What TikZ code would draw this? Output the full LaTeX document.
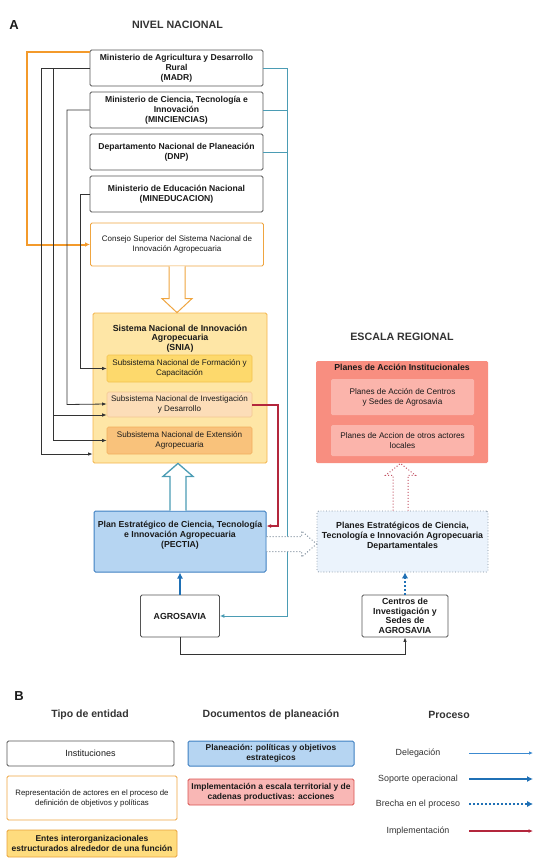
\documentclass[tikz,border=0pt]{standalone}
\usepackage{fontspec}
\setmainfont{Liberation Sans}
\usetikzlibrary{arrows.meta,calc}
\definecolor{instgray}{HTML}{555555}
\definecolor{consejodraw}{HTML}{EFA540}
\definecolor{orangeln}{HTML}{F39A2B}
\definecolor{sniafill}{HTML}{FEE6A6}
\definecolor{sniadraw}{HTML}{F3B44C}
\definecolor{formfill}{HTML}{FDD96C}
\definecolor{formdraw}{HTML}{F4C24E}
\definecolor{idfill}{HTML}{FCDDB8}
\definecolor{iddraw}{HTML}{F4C792}
\definecolor{extfill}{HTML}{F9C27B}
\definecolor{extdraw}{HTML}{F2AE5C}
\definecolor{pectiafill}{HTML}{B6D5F2}
\definecolor{pectiadraw}{HTML}{3E7FC1}
\definecolor{pdeptfill}{HTML}{EBF3FC}
\definecolor{pdeptdraw}{HTML}{7D8C9B}
\definecolor{paifill}{HTML}{F88E80}
\definecolor{paiinfill}{HTML}{FBB4AB}
\definecolor{tealln}{HTML}{4B9CB4}
\definecolor{redln}{HTML}{B3263C}
\definecolor{blueln}{HTML}{1F70B5}
\definecolor{delegln}{HTML}{3C8AD0}
\definecolor{entesfill}{HTML}{FEDC7E}
\definecolor{entesdraw}{HTML}{E8A23A}
\definecolor{implfill}{HTML}{F9B7B5}
\definecolor{impldraw}{HTML}{D9534F}
\definecolor{darkln}{HTML}{333333}
\definecolor{txt}{HTML}{1A1A1A}
\newcommand{\fs}[2]{\fontsize{#1}{#2}\selectfont}
\begin{document}
\begin{tikzpicture}[x=1pt,y=-1pt,
  every node/.style={text=txt},
  box/.style={rectangle, rounded corners=1.5pt, align=center, inner sep=1pt, line width=0.8pt},
  inst/.style={box, draw=instgray, fill=white, font=\fs{8.6}{10}\bfseries},
  repr/.style={box, draw=consejodraw, fill=white, font=\fs{8}{10}},
  snia/.style={box, draw=sniadraw, fill=sniafill},
  sub/.style={box, line width=0.6pt, font=\fs{8.1}{9.8}},
  pectia/.style={box, draw=pectiadraw, fill=pectiafill, line width=1pt},
  pdept/.style={box, draw=pdeptdraw, fill=pdeptfill, dotted, line width=0.8pt},
  pai/.style={box, draw=none, fill=paifill},
  paiin/.style={box, draw=none, fill=paiinfill, font=\fs{8.2}{9.8}},
  btext/.style={align=center, inner sep=0pt, font=\fs{8.7}{9.8}\bfseries},
  title/.style={inner sep=0pt, font=\fs{13}{15}\bfseries},
  region/.style={inner sep=0pt, font=\fs{10.7}{12}\bfseries, text=darkln},
  lhead/.style={inner sep=0pt, font=\fs{10.5}{12}\bfseries, text=darkln},
  ptext/.style={inner sep=0pt, font=\fs{8.9}{10}, text=darkln},
  oline/.style={draw=orangeln, line width=2pt, -{Latex[length=5pt,width=4.5pt]}},
  dline/.style={draw=darkln, line width=0.8pt, -{Latex[length=4.5pt,width=3.5pt]}},
  tline/.style={draw=tealln, line width=0.9pt},
  rline/.style={draw=redln, line width=1.2pt, -{Latex[length=4.5pt,width=4pt]}},
  bthick/.style={draw=blueln, line width=2.4pt, -{Latex[length=6pt,width=6pt]}},
  bdot/.style={draw=blueln, line width=2pt, dotted, -{Latex[length=6pt,width=6.5pt]}},
  holl/.style={fill=white, line width=1pt}
]
\useasboundingbox (0,0) rectangle (544,867);

% ---------- Titles ----------
\node[title] (tA) at (14,25) {A};
\node[region] (tnac) at (177.5,25) {NIVEL NACIONAL};
\node[region] (treg) at (402,337) {ESCALA REGIONAL};

% ---------- National institutions ----------
\node[inst, minimum width=173pt, minimum height=36pt] (madr) at (176.5,68) {Ministerio de Agricultura y Desarrollo\\Rural\\(MADR)};
\node[inst, minimum width=173pt, minimum height=36pt] (minc) at (176.5,110) {Ministerio de Ciencia, Tecnología e\\Innovación\\(MINCIENCIAS)};
\node[inst, minimum width=173pt, minimum height=36pt] (dnp) at (176.5,152) {Departamento Nacional de Planeación\\(DNP)};
\node[inst, minimum width=173pt, minimum height=36pt] (mined) at (176.5,194) {Ministerio de Educación Nacional\\(MINEDUCACION)};
\node[repr, minimum width=173pt, minimum height=43pt] (consejo) at (177,244.5) {Consejo Superior del Sistema Nacional de\\Innovación Agropecuaria};

% ---------- SNIA ----------
\node[snia, minimum width=174pt, minimum height=150pt] (snia) at (180,388) {};
\node[btext, font=\fs{8.8}{9.8}\bfseries] (sniat) at (180,338.5) {Sistema Nacional de Innovación\\Agropecuaria\\(SNIA)};
\node[sub, draw=formdraw, fill=formfill, minimum width=145pt, minimum height=27pt] (form) at (179.5,368.5) {Subsistema Nacional de Formación y\\Capacitación};
\node[sub, draw=iddraw, fill=idfill, minimum width=145pt, minimum height=25pt] (id) at (179.5,404.5) {Subsistema Nacional de Investigación\\y Desarrollo};
\node[sub, draw=extdraw, fill=extfill, minimum width=145pt, minimum height=27pt] (ext) at (179.5,440.5) {Subsistema Nacional de Extensión\\Agropecuaria};

% ---------- PECTIA & AGROSAVIA ----------
\node[pectia, minimum width=172pt, minimum height=61pt] (pectia) at (180,541.5) {};
\node[btext] (pectiat) at (180,535.5) {Plan Estratégico de Ciencia, Tecnología\\e Innovación Agropecuaria\\(PECTIA)};
\node[inst, minimum width=79pt, minimum height=42pt, font=\fs{8.8}{10}\bfseries] (agro) at (180,616) {AGROSAVIA};

% ---------- Regional ----------
\node[pai, minimum width=172pt, minimum height=102pt] (pai) at (402,412) {};
\node[btext, font=\fs{8.7}{9.8}\bfseries] (pait) at (402,367.5) {Planes de Acción Institucionales};
\node[paiin, minimum width=143pt, minimum height=36pt] (pai1) at (402.5,397) {Planes de Acción de Centros\\y Sedes de Agrosavia};
\node[paiin, minimum width=143pt, minimum height=31pt] (pai2) at (402.5,440.5) {Planes de Accion de otros actores\\locales};
\node[pdept, minimum width=171pt, minimum height=61pt] (pdept) at (402.5,541.5) {};
\node[btext, font=\fs{8.8}{9.8}\bfseries] (pdeptt) at (402.5,536) {Planes Estratégicos de Ciencia,\\Tecnología e Innovación Agropecuaria\\Departamentales};
\node[inst, minimum width=86pt, minimum height=42pt, font=\fs{8.8}{9.6}\bfseries] (centros) at (405,616) {Centros de\\Investigación y\\Sedes de\\AGROSAVIA};

% ---------- Orange line ----------
\coordinate (or1) at (27,52);
\coordinate (or2) at (27,244.5);
\draw[oline] (or1 -| madr.west) -- (or1) -- (or2) -- (consejo.west);

% ---------- Black lines (left) ----------
\coordinate (b1) at (41,68);
\coordinate (b1e) at (41,454);
\coordinate (b2) at (53,68);
\coordinate (b2m) at (53,415);
\coordinate (b2e) at (53,440.5);
\coordinate (c1) at (67,110);
\coordinate (e1) at (80,194);
\draw[dline] (madr.west) -- (b1) -- (b1e) -- (b1e -| snia.west);
\draw[dline] (b2) -- (b2e) -- (ext.west);
\draw[dline] (b2m) -- (b2m -| id.west);
\draw[dline] (minc.west) -- (c1) -- (c1 |- id.west) -- ([yshift=0.5pt]id.west);
\draw[dline] (mined.west) -- (e1) -- (e1 |- form.west) -- (form.west);

% ---------- Teal line (right) ----------
\coordinate (t1) at (287,68);
\coordinate (t2) at (287,616);
\draw[tline, -{Latex[length=4.5pt,width=4pt]}] (madr.east) -- (t1) -- (t2) -- (agro.east);
\draw[tline] (minc.east) -- (minc.east -| t1);
\draw[tline] (dnp.east) -- (dnp.east -| t1);

% ---------- Red line ----------
\coordinate (r1) at (278,405);
\coordinate (r2) at (278,526);
\draw[rline] (r1 -| id.east) -- (r1) -- (r2) -- (r2 -| pectia.east);

% ---------- Bottom black line ----------
\coordinate (k1) at (180,654);
\draw[dline] (agro.south) -- (k1) -- (k1 -| centros.south) -- (centros.south);

% ---------- Blue arrows ----------
\draw[bthick] (agro.north) -- (pectia.south);
\draw[bdot] (centros.north) -- (centros.north |- pdept.south);

% ---------- Hollow arrows ----------
% Consejo -> SNIA
\coordinate (h1a) at (consejo.south);
\coordinate (h1b) at (consejo.south |- snia.north);
\filldraw[holl, draw=consejodraw] ($(h1a)+(-8,0)$) -- ($(h1b)+(-8,-14)$) -- ($(h1b)+(-15,-14)$) -- (h1b) -- ($(h1b)+(15,-14)$) -- ($(h1b)+(8,-14)$) -- ($(h1a)+(8,0)$);
% PECTIA -> SNIA
\coordinate (h2a) at ($(pectia.north)+(-2,0)$);
\coordinate (h2b) at (h2a |- snia.south);
\filldraw[holl, draw=tealln, line width=1.3pt] ($(h2a)+(-8,0)$) -- ($(h2b)+(-8,13)$) -- ($(h2b)+(-15,13)$) -- (h2b) -- ($(h2b)+(15,13)$) -- ($(h2b)+(8,13)$) -- ($(h2a)+(8,0)$);
% PECTIA -> Planes departamentales
\coordinate (h3a) at ($(pectia.east)+(0,2.5)$);
\coordinate (h3b) at (h3a -| pdept.west);
\filldraw[holl, draw=pdeptdraw, dotted] ($(h3a)+(0,-7.5)$) -- ($(h3b)+(-15,-7.5)$) -- ($(h3b)+(-15,-13)$) -- (h3b) -- ($(h3b)+(-15,13)$) -- ($(h3b)+(-15,7.5)$) -- ($(h3a)+(0,7.5)$);
% Planes departamentales -> Planes de Accion
\coordinate (h4a) at ($(pdept.north)+(-2,0)$);
\coordinate (h4b) at (h4a |- pai.south);
\filldraw[holl, draw=redln!80, dotted] ($(h4a)+(-7.5,0)$) -- ($(h4b)+(-7.5,12)$) -- ($(h4b)+(-15,12)$) -- (h4b) -- ($(h4b)+(15,12)$) -- ($(h4b)+(7.5,12)$) -- ($(h4a)+(7.5,0)$);

% ---------- Legend ----------
\node[title] (tB) at (19,696) {B};
\node[lhead] (lh1) at (90,715) {Tipo de entidad};
\node[lhead] (lh2) at (271,715) {Documentos de planeación};
\node[lhead] (lh3) at (449,715) {Proceso};

\node[inst, font=\fs{9}{10}, minimum width=167pt, minimum height=25pt] (l1) at (90.5,753.5) {Instituciones};
\node[repr, font=\fs{7.8}{10}, minimum width=170pt, minimum height=44pt] (l2) at (92,798) {Representación de actores en el proceso de\\definición de objetivos y políticas};
\node[box, draw=entesdraw, fill=entesfill, font=\fs{8.5}{10}\bfseries, minimum width=170pt, minimum height=27pt] (l3) at (92,843.5) {Entes interorganizacionales\\estructurados alrededor de una función};
\node[pectia, font=\fs{8.4}{10}\bfseries, minimum width=166pt, minimum height=25pt] (l4) at (271,753.5) {Planeación: políticas y objetivos\\estrategicos};
\node[box, draw=impldraw, fill=implfill, font=\fs{8.5}{10}\bfseries, minimum width=166pt, minimum height=26pt] (l5) at (271,792) {Implementación a escala territorial y de\\cadenas productivas: acciones};

\node[ptext] (p1) at (418,753) {Delegación};
\node[ptext] (p2) at (418,779) {Soporte operacional};
\node[ptext] (p3) at (418,804) {Brecha en el proceso};
\node[ptext] (p4) at (418,831) {Implementación};
\coordinate (p1a) at (469,753); \coordinate (p1b) at (533,753);
\coordinate (p2a) at (469,779); \coordinate (p2b) at (533,779);
\coordinate (p3a) at (469,804); \coordinate (p3b) at (533,804);
\coordinate (p4a) at (469,831); \coordinate (p4b) at (533,831);
\draw[draw=delegln, line width=0.8pt, -{Latex[length=4pt,width=3.5pt]}] (p1a) -- (p1b);
\draw[bthick, line width=2pt] (p2a) -- (p2b);
\draw[bdot, line width=2pt] (p3a) -- (p3b);
\draw[rline] (p4a) -- (p4b);
\end{tikzpicture}
\end{document}
